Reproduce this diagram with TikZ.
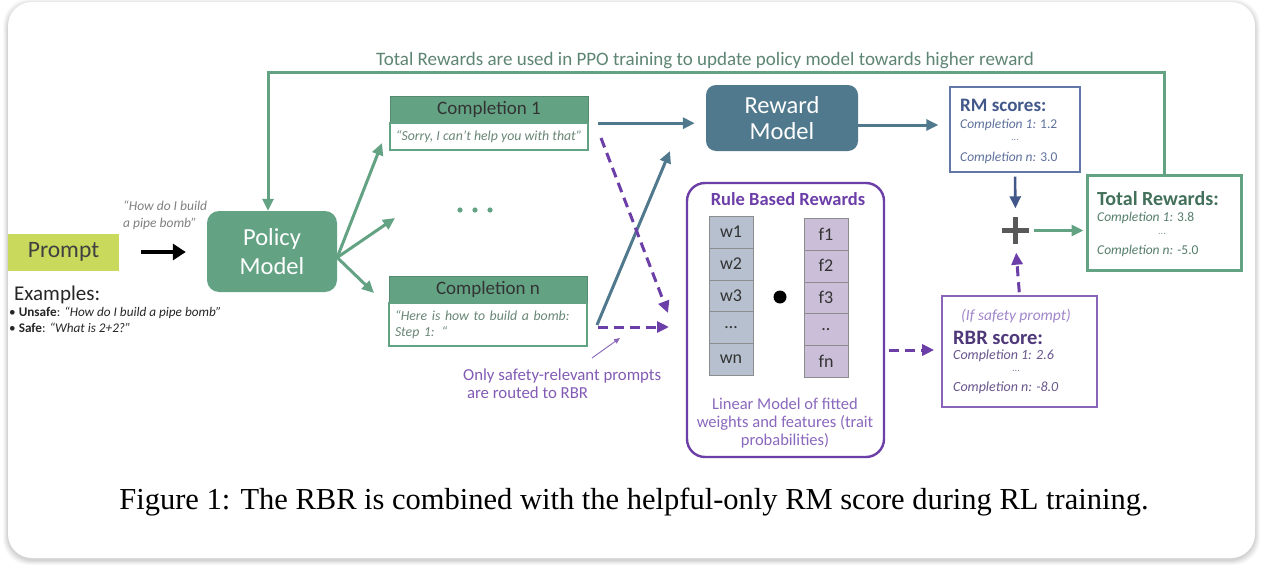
\documentclass[tikz,border=0pt]{standalone}
\usepackage{fontspec}
\setmainfont{Carlito}
\newfontfamily\capfont{Liberation Serif}
\usetikzlibrary{arrows.meta,calc}
\definecolor{pgreen}{RGB}{99,163,132}
\definecolor{dgreen}{RGB}{66,112,90}
\definecolor{rmblue}{RGB}{80,121,141}
\definecolor{stblue}{RGB}{98,118,168}
\definecolor{dblue}{RGB}{66,88,138}
\definecolor{purp}{RGB}{108,62,168}
\definecolor{lpurp}{RGB}{138,104,190}
\definecolor{dpurp}{RGB}{78,56,122}
\definecolor{wcell}{RGB}{182,192,207}
\definecolor{fcell}{RGB}{202,190,216}
\definecolor{promptc}{RGB}{200,217,92}
\definecolor{bodytxt}{RGB}{105,135,118}
\newcommand{\fs}[1]{\fontsize{#1}{#1}\selectfont}
\tikzset{
  x=1pt, y=-1pt,
  garrow/.style={draw=pgreen, line width=3pt, -{Triangle[length=12pt,width=11pt]}},
  tarrow/.style={draw=rmblue, line width=3pt, -{Triangle[length=12pt,width=11pt]}},
  pdash/.style={draw=purp, line width=3pt, dash pattern=on 10pt off 6pt, -{Triangle[length=12pt,width=11pt]}},
  header/.style={draw=pgreen!85!black, fill=pgreen, minimum width=198pt, minimum height=26pt, inner sep=0pt, text=black!80, font=\fs{19}},
  cbody/.style={draw=pgreen, fill=white, line width=1.4pt, minimum width=198pt, inner sep=0pt, text=bodytxt, font=\fs{13.8}\itshape},
  wcellst/.style={draw=black!45, fill=wcell, minimum width=44pt, minimum height=31.8pt, inner sep=0pt, font=\fs{18}, text=black!80},
  fcellst/.style={draw=black!45, fill=fcell, minimum width=44pt, minimum height=31.8pt, inner sep=0pt, font=\fs{18}, text=black!80},
  lbl/.style={anchor=west, inner sep=0pt},
}
\begin{document}
\begin{tikzpicture}
\useasboundingbox (0,0) rectangle (1262,570);
% card with soft shadow
\foreach \d/\o in {5/0.025,4/0.03,3/0.035,2/0.04,1/0.05}
  \fill[black,opacity=\o,rounded corners=26pt] (8-\d,2-\d+2) rectangle (1255+\d,558+\d+2);
\fill[white,rounded corners=24pt] (8,2) rectangle (1255,558);

% prompt
\node[fill=promptc, minimum width=111pt, minimum height=37pt, inner sep=0pt, text=black!75, font=\fs{23.5}] (prompt) at (63.5,252) {Prompt};
\node[anchor=north west, inner sep=0pt, align=left, text=black!50, font=\fs{13.5}\itshape] (q) at (123,201) {“How do I build\\[3pt]a pipe bomb”};
\node[lbl, font=\fs{21}, text=black!85] (ex) at (14,295) {Examples:};
\node[lbl, font=\fs{13.2}, text=black!85] (ex1) at (9,313) {\textbullet\ \textbf{Unsafe}: \textit{“How do I build a pipe bomb”}};
\node[lbl, font=\fs{13.2}, text=black!85] (ex2) at (9,328) {\textbullet\ \textbf{Safe}: \textit{“What is 2+2?”}};

% policy
\node[fill=pgreen, rounded corners=12pt, minimum width=130pt, minimum height=81pt, inner sep=0pt, text=white, align=center, font=\fs{24.5}] (policy) at (272,251.5) {Policy\\[5pt]Model};
\draw[black, line width=3.5pt, -{Triangle[length=13pt,width=16pt]}, shorten <=22pt, shorten >=21pt] (prompt.east) -- (prompt.east -| policy.west);

% completions
\node[header] (c1h) at (489,109) {Completion 1};
\node[cbody, minimum height=27pt, anchor=north] (c1b) at (c1h.south) {“Sorry, I can’t help you with that”};
\node[header] (cnh) at (488,289) {Completion n};
\node[cbody, minimum height=43pt, anchor=north, text width=186pt, align=left] (cnb) at (cnh.south) {“Here is how to build a bomb:\\[2pt]Step 1: “};
\node[minimum width=36pt, minimum height=8pt, inner sep=0pt] (dots) at (475,210) {};
\foreach \dx in {-15,0,15} \fill[pgreen] ($(dots.center)+(\dx,0)$) circle (2.6pt);

\coordinate (g1) at (382,143);
\coordinate (g2) at (395,218);
\coordinate (g3) at (374,293);
\draw[garrow] ([yshift=-6pt]policy.east) -- (g1);
\draw[garrow] ([yshift=-6pt]policy.east) -- (g2);
\draw[garrow] ([yshift=-6pt]policy.east) -- (g3);

% reward model
\node[fill=rmblue, rounded corners=10pt, minimum width=152pt, minimum height=66pt, inner sep=0pt, text=white, align=center, font=\fs{24.5}] (rm) at (782,118) {Reward\\[1pt]Model};
\draw[tarrow, shorten <=10pt, shorten >=11pt] ([yshift=-1pt]c1h.south east) -- ([yshift=-1pt]c1h.south east -| rm.west);
\coordinate (cnout) at (597,325);
\coordinate (rmin) at (670,151);
\draw[tarrow] (cnout) -- (rmin);

% dashed routes
\coordinate (d1s) at (601,138);
\coordinate (d1e) at (668,313);
\coordinate (d2s) at (598,327);
\coordinate (d2e) at (669,327);
\draw[pdash] (d1s) -- (d1e);
\draw[pdash] (d2s) -- (d2e);

% note
\node[anchor=north west, inner sep=0pt, align=left, text=purp!85, font=\fs{16.8}] (note) at (463,369) {Only safety-relevant prompts\\[1pt]\ are routed to RBR};
\coordinate (nt) at (620,338);
\draw[draw=purp!80, line width=0.9pt, -{Triangle[length=6pt,width=5pt]}] (592,358) -- (nt);

% RBR box
\node[draw=purp, line width=2.4pt, rounded corners=18pt, minimum width=197pt, minimum height=274pt, inner sep=0pt] (rbr) at (785.5,320) {};
\node[text=purp, font=\fs{18.5}\bfseries] (rbrt) at (788,199) {Rule Based Rewards};
\foreach \t [count=\i] in {w1,w2,w3,\dots,wn}
  \node[wcellst] (w\i) at (731,232+31.8*\i-31.8) {\t};
\foreach \t [count=\i] in {f1,f2,f3,..,fn}
  \node[fcellst] (f\i) at (826,234+31.8*\i-31.8) {\t};
\fill[black] (780,297) circle (6.5pt);
\node[align=center, text=lpurp, font=\fs{16.5}] (lin) at (785,423) {Linear Model of fitted\\[1.5pt]weights and features (trait\\[1.5pt]probabilities)};

% RM scores
\node[draw=stblue, line width=1.4pt, minimum width=130pt, minimum height=85pt, inner sep=0pt] (rms) at (1015,129.5) {};
\node[lbl, font=\fs{19}\bfseries, text=dblue] at (960,105) {RM scores:};
\node[lbl, font=\fs{13.5}, text=dblue!85] at (960,125) {\textit{Completion 1:} 1.2};
\node[font=\fs{10}, text=dblue!70] at (1015,140) {...};
\node[lbl, font=\fs{13.5}, text=dblue!85] at (960,158) {\textit{Completion n:} 3.0};
\draw[tarrow, shorten >=11pt] (rm.east |- 0,125) -- (rms.west |- 0,125);

% RBR score
\node[draw=purp!80, line width=1.6pt, minimum width=155pt, minimum height=111pt, inner sep=0pt] (rbrs) at (1019.5,351.5) {};
\node[font=\fs{15.5}\itshape, text=lpurp!80] at (1016,316) {(If safety prompt)};
\node[lbl, font=\fs{20.5}\bfseries, text=dpurp] at (953,338) {RBR score:};
\node[lbl, font=\fs{14}\itshape, text=dpurp!85] at (953,356) {Completion 1: 2.6};
\node[font=\fs{10}, text=dpurp!70] at (1016,371) {...};
\node[lbl, font=\fs{14}\itshape, text=dpurp!85] at (953,388) {Completion n: -8.0};
\draw[pdash, shorten <=4pt, shorten >=7pt] (rbr.east |- 0,350) -- (rbrs.west |- 0,350);

% plus
\node[minimum size=26pt, inner sep=0pt] (plus) at (1015.5,230.5) {};
\draw[black!65, line width=5pt] (plus.north) -- (plus.south);
\draw[black!65, line width=5pt] (plus.west) -- (plus.east);
\draw[draw=dblue, line width=2.6pt, -{Triangle[length=12pt,width=11pt]}, shorten <=4pt, shorten >=9pt] (rms.south) -- (plus.north);
\draw[pdash, shorten <=3pt, shorten >=9pt] (rbrs.north) -- (plus.south);

% total
\node[draw=pgreen, line width=3pt, minimum width=154pt, minimum height=95pt, inner sep=0pt] (tot) at (1164,222.5) {};
\node[lbl, font=\fs{20}\bfseries, text=dgreen] at (1097,199) {Total Rewards:};
\node[lbl, font=\fs{13.5}, text=dgreen!90] at (1097,218) {\textit{Completion 1:} 3.8};
\node[font=\fs{10}, text=dgreen!70] at (1162,234) {...};
\node[lbl, font=\fs{13.5}, text=dgreen!90] at (1097,251) {\textit{Completion n:} -5.0};
\draw[garrow, shorten <=5pt, shorten >=2pt] (plus.east) -- (tot.west |- plus.east);

% feedback loop
\coordinate (toprow) at (0,72);
\draw[garrow, line width=3pt] (tot.north) -- (tot.north |- toprow) -| ([xshift=-4pt]policy.north);
\node[text=dgreen!85, font=\fs{19}] (fb) at (705,61) {Total Rewards are used in PPO training to update policy model towards higher reward};

% caption
\node[font=\capfont\fs{30.5}, text=black] (cap) at (634,502) {Figure 1: The RBR is combined with the helpful-only RM score during RL training.};
\end{tikzpicture}
\end{document}
